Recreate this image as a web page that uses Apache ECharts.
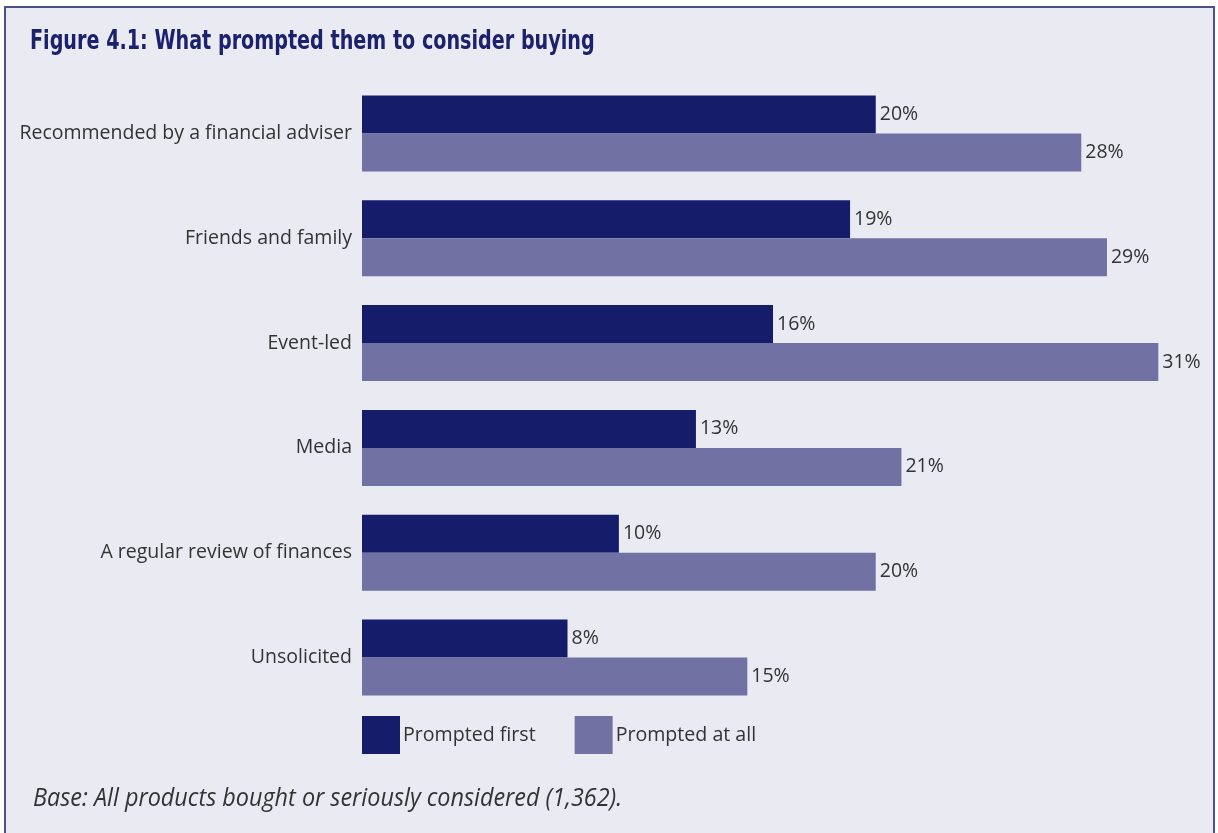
<!DOCTYPE html>
<html>
<head>
<meta charset="utf-8">
<script src="https://cdn.jsdelivr.net/npm/echarts@6/dist/echarts.min.js"></script>
<style>
  html, body { margin: 0; padding: 0; background: #ffffff; }
  #chart { width: 1218px; height: 833px; }
</style>
</head>
<body>
<div id="chart"></div>
<script>
// Sources that prompted buyers, top to bottom
const categories = [
  'Recommended by a financial adviser',
  'Friends and family',
  'Event-led',
  'Media',
  'A regular review of finances',
  'Unsolicited'
];
const promptedFirst = [20, 19, 16, 13, 10, 8];
const promptedAtAll = [28, 29, 31, 21, 20, 15];
const seriesNames = ['Prompted first', 'Prompted at all'];

const titleText = 'Figure 4.1: What prompted them to consider buying';
const footerText = 'Base: All products bought or seriously considered (1,362).';

const DARK = '#151c6a';
const LIGHT = '#7171a3';
const TEXT = '#333333';
const FONT = '"Open Sans", "Noto Sans", sans-serif';

const chart = echarts.init(document.getElementById('chart'), null, { renderer: 'canvas' });

const valueLabel = {
  show: true,
  position: 'right',
  distance: 4,
  color: TEXT,
  fontSize: 19.5,
  fontFamily: FONT,
  formatter: p => p.value + '%'
};

chart.setOption({
  animation: false,
  backgroundColor: '#ffffff',
  graphic: [
    {
      type: 'rect',
      z: -10,
      shape: { x: 5, y: 7, width: 1209, height: 840 },
      style: { fill: '#eaeaf3', stroke: '#4b4f8c', lineWidth: 2 }
    },
    {
      type: 'text',
      x: 30, y: 42,
      scaleY: 1.25,
      style: {
        text: titleText,
        fill: '#1b216d',
        verticalAlign: 'middle',
        font: 'bold 21.3px "DejaVu Sans Condensed", sans-serif'
      }
    },
    {
      type: 'text',
      x: 33, y: 799,
      scaleY: 1.1,
      style: {
        text: footerText,
        fill: TEXT,
        verticalAlign: 'middle',
        font: 'italic 23.4px ' + FONT
      }
    }
  ],
  legend: {
    data: seriesNames,
    left: 362,
    top: 716,
    padding: 0,
    itemWidth: 38,
    itemHeight: 38,
    itemGap: 39,
    icon: 'rect',
    textStyle: { color: TEXT, fontSize: 19.6, fontFamily: FONT, padding: [0, 0, 0, -2] }
  },
  grid: {
    left: 362,
    top: 81,
    width: 822,
    height: 629,
    containLabel: false
  },
  xAxis: {
    type: 'value',
    min: 0,
    max: 32,
    show: false
  },
  yAxis: {
    type: 'category',
    data: categories,
    inverse: true,
    axisLine: { show: false },
    axisTick: { show: false },
    splitLine: { show: false },
    axisLabel: {
      color: TEXT,
      fontSize: 19.5,
      fontFamily: FONT,
      margin: 10,
      padding: [0, 0, 6, 0]
    }
  },
  series: [
    {
      name: seriesNames[0],
      type: 'bar',
      data: promptedFirst,
      itemStyle: { color: DARK },
      barGap: '0%',
      barCategoryGap: '27.5%',
      label: valueLabel
    },
    {
      name: seriesNames[1],
      type: 'bar',
      data: promptedAtAll,
      itemStyle: { color: LIGHT },
      barGap: '0%',
      barCategoryGap: '27.5%',
      label: valueLabel
    }
  ]
});
</script>
</body>
</html>
